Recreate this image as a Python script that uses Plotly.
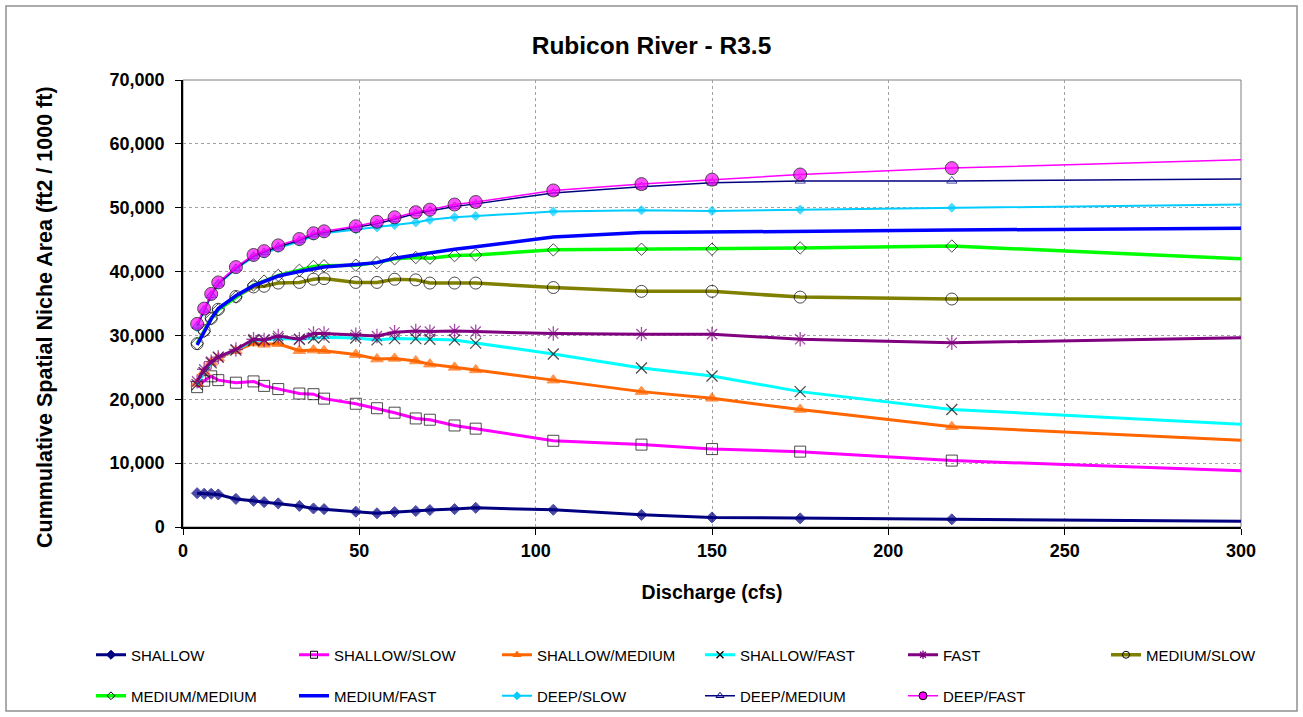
import plotly.graph_objects as go

# ---------------- data ----------------
discharge = [4, 6, 8, 10, 15, 20, 23, 27, 33, 37, 40, 49, 55, 60, 66, 70, 77, 83,
             105, 130, 150, 175, 218, 300]

shallow = [5300, 5200, 5200, 5100, 4400, 4100, 3900, 3700, 3300, 2900, 2800, 2400,
           2150, 2350, 2500, 2650, 2800, 3000, 2700, 1900, 1500, 1350, 1200, 900]
shallow_slow = [21900, 22900, 23600, 23000, 22600, 22800, 22100, 21600, 20900, 20800,
                20100, 19300, 18600, 17900, 17000, 16800, 15900, 15400, 13500, 12900,
                12200, 11800, 10400, 8800]
shallow_medium = [22500, 24300, 25800, 26500, 27600, 28800, 28600, 28700, 27600, 27700,
                  27600, 27000, 26300, 26400, 26000, 25500, 25000, 24600, 23000, 21200,
                  20150, 18400, 15700, 13600]
shallow_fast = [22300, 24200, 25700, 26600, 27700, 29200, 29300, 29500, 29400, 29600,
                29700, 29600, 29300, 29500, 29500, 29400, 29300, 28800, 27100, 24900,
                23650, 21200, 18400, 16100]
fast = [22800, 24700, 25900, 26600, 27800, 29400, 29300, 29900, 29400, 30300, 30300,
        30100, 29900, 30500, 30700, 30600, 30700, 30600, 30300, 30200, 30200, 29400,
        28850, 29650]
medium_slow = [28700, 30800, 32700, 34100, 36100, 37600, 37700, 38200, 38300, 38800,
               38900, 38300, 38300, 38800, 38700, 38200, 38200, 38200, 37500, 36900,
               36900, 36000, 35700, 35700]
medium_medium = [28700, 30600, 32600, 34000, 36000, 37900, 38500, 39400, 40200, 40800,
                 40900, 41000, 41400, 42000, 42200, 42100, 42500, 42600, 43400, 43500,
                 43500, 43700, 44000, 42000]
medium_fast = [28500, 30600, 32600, 34200, 36200, 37800, 38500, 39300, 40000, 40400,
               40700, 41100, 41400, 42100, 42600, 43000, 43500, 43900, 45400, 46100,
               46200, 46300, 46500, 46800]
deep_slow = [31300, 33900, 36200, 38000, 40400, 42300, 42800, 43700, 44700, 45600,
             46000, 46600, 46900, 47300, 47700, 48100, 48500, 48700, 49400, 49600,
             49500, 49700, 50000, 50500]
deep_medium = [31500, 34000, 36300, 38100, 40500, 42400, 43000, 43900, 44900, 45800,
               46100, 46900, 47500, 48200, 49100, 49500, 50200, 50600, 52300, 53300,
               53900, 54200, 54200, 54500]
deep_fast = [31800, 34200, 36500, 38300, 40700, 42600, 43200, 44100, 45100, 46000,
             46300, 47100, 47800, 48500, 49300, 49700, 50500, 50900, 52700, 53700,
             54400, 55200, 56200, 57500]

x_ticks = [0, 50, 100, 150, 200, 250, 300]
y_ticks = [0, 10000, 20000, 30000, 40000, 50000, 60000, 70000]

FONT = "Liberation Sans, Arial, sans-serif"

# name, values, line color, line width, symbol, marker color, marker size, marker line color, marker line width, legend size
series = [
    ("SHALLOW", shallow, "#000080", 3, "diamond", "#000080", 8.5, "#000080", 1, 7),
    ("SHALLOW/SLOW", shallow_slow, "#FF00FF", 3, "square-open", "#000000", 11, "#000000", 1, 7),
    ("SHALLOW/MEDIUM", shallow_medium, "#FF6600", 3, "triangle-up", "#FF6600", 11, "#FF6600", 1, 7),
    ("SHALLOW/FAST", shallow_fast, "#00FFFF", 3, "x-thin-open", "#000000", 11, "#000000", 1.3, 7),
    ("FAST", fast, "#800080", 3, "asterisk-open", "#800080", 12, "#800080", 1.3, 7),
    ("MEDIUM/SLOW", medium_slow, "#808000", 3.5, "circle-open", "#000000", 12, "#000000", 1, 7),
    ("MEDIUM/MEDIUM", medium_medium, "#00FF00", 3.5, "diamond-open", "#000000", 9.5, "#000000", 1, 6),
    ("MEDIUM/FAST", medium_fast, "#0000FF", 3.5, None, None, 0, None, 0, 0),
    ("DEEP/SLOW", deep_slow, "#00CCFF", 2, "diamond", "#00CCFF", 7, "#00CCFF", 1, 6),
    ("DEEP/MEDIUM", deep_medium, "#000080", 1.5, "triangle-up-open", "#000080", 9, "#000080", 1, 7),
    ("DEEP/FAST", deep_fast, "#FF00FF", 1.5, "circle", "#FF00FF", 13, "#000000", 1, 8),
]

# legend placement: row 1 -> legend (5) + legend3 (1), row 2 -> legend2
legend_of = ["legend"] * 5 + ["legend3"] + ["legend2"] * 5

fig = go.Figure()

# data traces (last point sits on the axis edge with no marker)
for name, vals, lc, lw, sym, mc, ms, mlc, mlw, lgs in series:
    if sym is None:
        fig.add_trace(go.Scatter(x=discharge, y=vals, mode="lines", name=name,
                                 line=dict(color=lc, width=lw), showlegend=False,
                                 cliponaxis=False))
    else:
        sizes = [ms] * (len(discharge) - 1) + [0]
        fig.add_trace(go.Scatter(
            x=discharge, y=vals, mode="lines+markers", name=name,
            line=dict(color=lc, width=lw),
            marker=dict(symbol=sym, color=mc, size=sizes,
                        line=dict(color=mlc, width=mlw)),
            showlegend=False, cliponaxis=False))

# legend entries
for (name, vals, lc, lw, sym, mc, ms, mlc, mlw, lgs), leg in zip(series, legend_of):
    if sym is None:
        fig.add_trace(go.Scatter(x=[None], y=[None], mode="lines", name=name,
                                 line=dict(color=lc, width=lw), legend=leg))
    else:
        fig.add_trace(go.Scatter(
            x=[None], y=[None], mode="lines+markers", name=name,
            line=dict(color=lc, width=lw),
            marker=dict(symbol=sym, color=mc, size=lgs,
                        line=dict(color=mlc, width=mlw)),
            legend=leg))

W, H = 1303, 717
L, R, T, B = 183, 62, 80, 190
pw, ph = W - L - R, H - T - B


def px_to_paper_x(px):
    return (px - L) / pw


def px_to_paper_y(py):
    return (H - B - py) / ph


legend_common = dict(orientation="h", xref="container", yref="container",
                     xanchor="left", yanchor="middle",
                     font=dict(family=FONT, size=15, color="#000000"),
                     entrywidth=158, entrywidthmode="pixels",
                     bgcolor="rgba(0,0,0,0)", itemclick=False)

LEG_X = 91
PITCH = 203

fig.update_layout(
    width=W, height=H,
    paper_bgcolor="#FFFFFF", plot_bgcolor="#FFFFFF",
    margin=dict(l=L, r=R, t=T, b=B, pad=0),
    font=dict(family=FONT, color="#000000"),
    title=dict(text="<b>Rubicon River - R3.5</b>", x=0.5, xref="container",
               xanchor="center", y=1 - 45 / H, yanchor="middle",
               font=dict(family=FONT, size=24.5, color="#000000")),
    xaxis=dict(range=[0, 300], tickvals=x_ticks, ticktext=[str(v) for v in x_ticks],
               showgrid=True, gridcolor="#A0A0A0", griddash="dot", gridwidth=1,
               showline=True, linecolor="#000000", linewidth=1.5,
               ticks="outside", ticklen=6, tickcolor="#000000", tickwidth=1,
               ticklabelstandoff=1,
               tickfont=dict(family=FONT, size=18, color="#000000", weight="bold"),
               zeroline=False,
               title=dict(text="<b>Discharge (cfs)</b>", standoff=25,
                          font=dict(family=FONT, size=19.5, color="#000000"))),
    yaxis=dict(range=[0, 70000], tickvals=y_ticks,
               ticktext=[f"{v:,}" for v in y_ticks],
               showgrid=True, gridcolor="#A0A0A0", griddash="dot", gridwidth=1,
               showline=True, linecolor="#000000", linewidth=1.5,
               ticks="outside", ticklen=6, tickcolor="#000000", tickwidth=1,
               ticklabelstandoff=7,
               tickfont=dict(family=FONT, size=18, color="#000000", weight="bold"),
               zeroline=False),
    annotations=[
        dict(text="<b>Cummulative Spatial Niche Area (ft2 / 1000 ft)</b>",
             textangle=-90, xref="paper", yref="paper",
             x=px_to_paper_x(45), y=px_to_paper_y(317),
             xanchor="center", yanchor="middle", showarrow=False,
             font=dict(family=FONT, size=21.5, color="#000000")),
    ],
    legend=dict(x=LEG_X / W, y=1 - 655 / H, **legend_common),
    legend3=dict(x=(LEG_X + 5 * PITCH) / W, y=1 - 655 / H, **legend_common),
    legend2=dict(x=LEG_X / W, y=1 - 696 / H, **legend_common),
    shapes=[
        # plot area frame (grey)
        dict(type="rect", xref="paper", yref="paper", x0=0, y0=0, x1=1, y1=1,
             line=dict(color="#808080", width=1), layer="below"),
        # chart area border
        dict(type="rect", xref="paper", yref="paper",
             x0=px_to_paper_x(6), x1=px_to_paper_x(1297),
             y0=px_to_paper_y(711), y1=px_to_paper_y(6),
             line=dict(color="#909090", width=1.5), layer="below"),
    ],
)

fig.write_html("out.html", config={"displayModeBar": False},
               post_script="document.body.style.margin='0px';document.body.style.padding='0px';")
